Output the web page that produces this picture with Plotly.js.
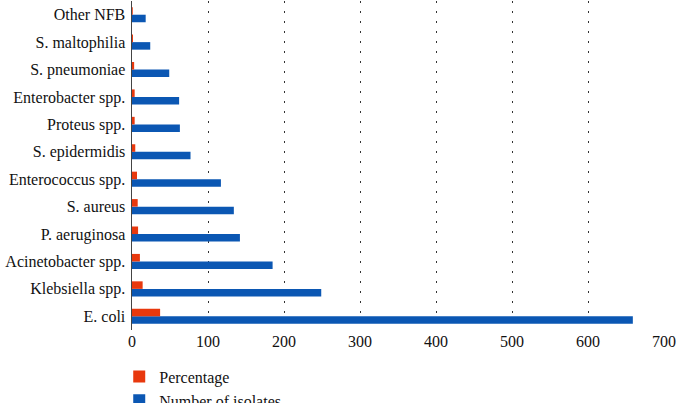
<!DOCTYPE html>
<html>
<head>
<meta charset="utf-8">
<script src="https://cdn.plot.ly/plotly-2.35.2.min.js"></script>
<style>
html,body{margin:0;padding:0;background:#fff;}
#chart{width:677px;height:403px;}
#chart text{font-family:"Liberation Serif","DejaVu Serif",serif !important;}
</style>
</head>
<body>
<div id="chart"></div>
<script>
const categories = ["E. coli", "Klebsiella spp.", "Acinetobacter spp.", "P. aeruginosa", "S. aureus", "Enterococcus spp.", "S. epidermidis", "Proteus spp.", "Enterobacter spp.", "S. pneumoniae", "S. maltophilia", "Other NFB"];
const isolates = [659, 249, 185, 142, 134, 117, 77, 63, 62, 49, 24, 18];
const percentage = [37.0, 14.0, 10.4, 8.0, 7.5, 6.6, 4.3, 3.5, 3.5, 2.8, 1.3, 1.0];
const xTicks = [0, 100, 200, 300, 400, 500, 600, 700];

const data = [
  {type: "bar", orientation: "h", name: "Number of isolates", y: categories, x: isolates,
   marker: {color: "#0b57b3"}},
  {type: "bar", orientation: "h", name: "Percentage", y: categories, x: percentage,
   marker: {color: "#e8380d"}}
];
const layout = {
  width: 677, height: 403,
  margin: {l: 132, r: 13, t: 1, b: 73, autoexpand: false},
  barmode: "group", bargap: 0.45, bargroupgap: 0,
  paper_bgcolor: "#fff", plot_bgcolor: "#fff",
  font: {family: "Liberation Serif", size: 16, color: "#111"},
  xaxis: {range: [0, 700], tickvals: xTicks, ticktext: xTicks.map(String),
    showgrid: true, gridcolor: "#333", griddash: "1.5px,8.5px", gridwidth: 1,
    zeroline: false, showline: false, ticks: "", fixedrange: true, automargin: false},
  yaxis: {type: "category", categoryorder: "array", categoryarray: categories,
    showline: true, linecolor: "#444", linewidth: 1.5, showgrid: false, ticks: "",
    ticklabelstandoff: 2, automargin: false},
  showlegend: true,
  legend: {orientation: "v", traceorder: "reversed", x: -0.024, xanchor: "left",
    y: -0.09, yanchor: "top", bgcolor: "rgba(0,0,0,0)", tracegroupgap: 0}
};
Plotly.newPlot("chart", data, layout, {displayModeBar: false, staticPlot: true});
</script>
</body>
</html>
